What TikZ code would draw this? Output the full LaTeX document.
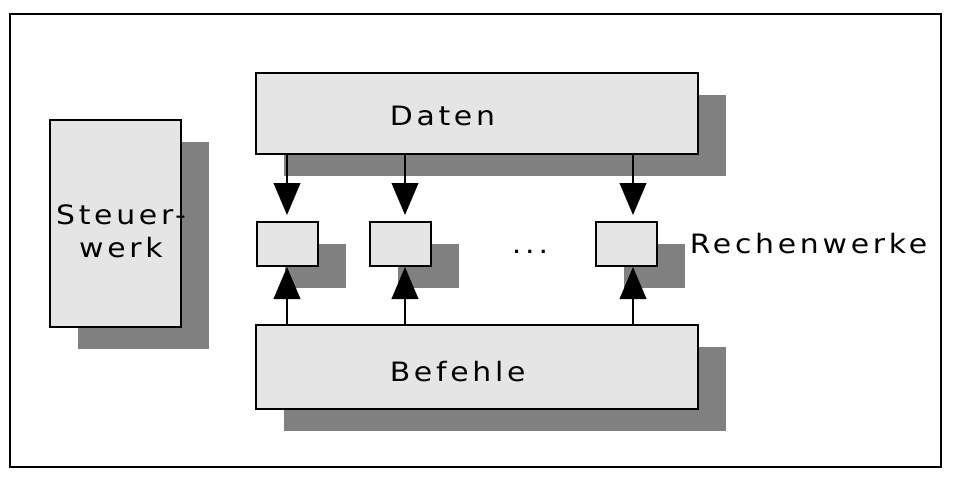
\documentclass[tikz,border=0pt]{standalone}
\usepackage{fontspec}
\newfontfamily\vera[FakeStretch=1.12,LetterSpace=14]{DejaVu Sans}
\usetikzlibrary{arrows.meta,shadows}

\definecolor{boxgray}{gray}{0.9}
\definecolor{shadegray}{gray}{0.5}

\tikzset{
  block/.style={draw,line width=1.5pt,fill=boxgray,inner sep=0pt,
    drop shadow={shadow xshift=21pt,shadow yshift=-16.5pt,fill=shadegray,opacity=1}},
  lbl/.style={font=\fontsize{20}{24.75}\selectfont\vera,inner sep=0pt},
  pfeil/.style={line width=1.4pt,-{Triangle[length=24pt,width=20pt]}},
}

\begin{document}
\begin{tikzpicture}[x=0.75pt,y=-0.75pt]
  \useasboundingbox (0,0) rectangle (953,480);
  \draw[line width=1.5pt] (10,14) rectangle (941,467);

  % Steuerwerk links
  \node[block,minimum width=98.25pt,minimum height=155.25pt] (steuer) at (115.5,223.5) {};
  % Daten oben, Befehle unten
  \node[block,minimum width=331.5pt,minimum height=60.75pt] (daten) at (477,113.5) {};
  \node[block,minimum width=331.5pt,minimum height=63pt] (befehle) at (477,367) {};

  % Rechenwerke
  \foreach \n/\cx/\ax in {1/287.5/287,2/400.5/405,3/626/633} {
    \node[block,minimum width=45.75pt,minimum height=33pt] (rw\n) at (\cx,244) {};
    \coordinate (a\n) at (\ax,244);
    \draw[pfeil,shorten >=4.5pt] (daten.south -| a\n) -- (rw\n.north -| a\n);
    \draw[pfeil] (befehle.north -| a\n) -- (rw\n.south -| a\n);
  }

  \node[lbl,align=center] (tsteuer) at (121,231) {Steuer-\\werk};
  \node[lbl,anchor=base west] (tdaten) at (389.5,125) {Daten};
  \node[lbl,anchor=base west] (tbefehle) at (389.5,381) {Befehle};
  \node[lbl,anchor=base] (dots) at (530,253) {.\kern3pt.\kern3pt.};
  \node[lbl,anchor=base west] (trw) at (689.5,253) {Rechenwerke};
\end{tikzpicture}
\end{document}
